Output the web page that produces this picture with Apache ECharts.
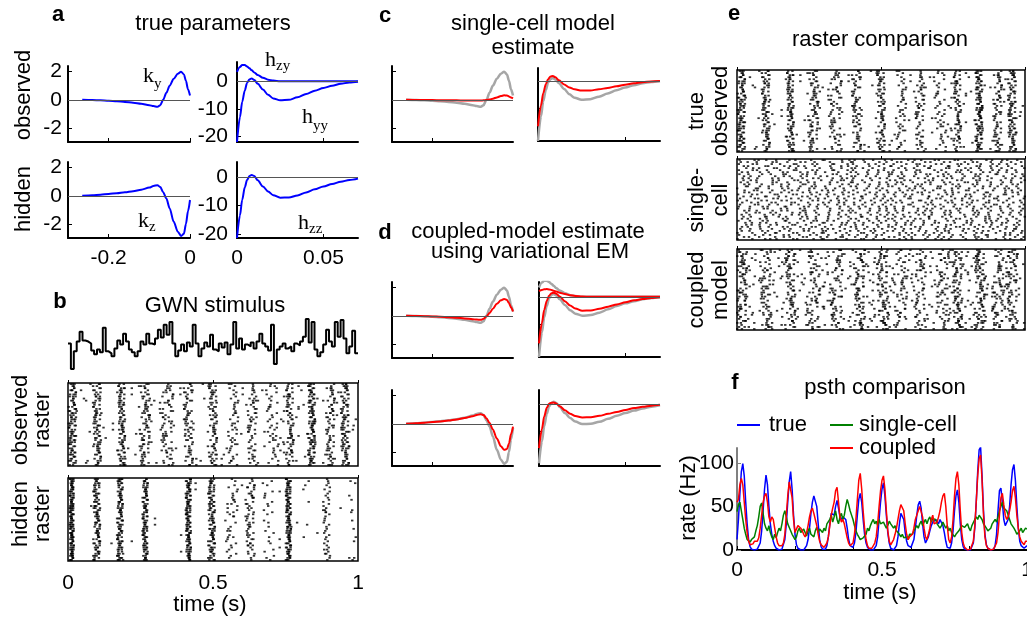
<!DOCTYPE html>
<html>
<head>
<meta charset="utf-8">
<title>true parameters / raster / psth</title>
<script src="https://cdn.jsdelivr.net/npm/echarts@6.0.0/dist/echarts.min.js"></script>
<style>
  html, body { margin: 0; padding: 0; background: #fff; }
  #main { width: 1027px; height: 620px; }
</style>
</head>
<body>
<div id="main"></div>
<script>
// ---------- filters (panel a, c, d) ----------
const kTime = [-0.265, -0.24, -0.22, -0.2, -0.18, -0.16, -0.14, -0.12, -0.1, -0.09, -0.08,
  -0.073, -0.066, -0.058, -0.05, -0.04, -0.03, -0.022, -0.015, -0.01, -0.005, 0];
const kyTrue = [0, -0.02, -0.04, -0.07, -0.1, -0.15, -0.21, -0.28, -0.38, -0.45, -0.5,
  -0.38, 0, 0.5, 1.0, 1.5, 1.85, 2.0, 1.8, 1.35, 0.75, 0.3];
const kzTrue = [0, 0.04, 0.08, 0.13, 0.18, 0.25, 0.33, 0.43, 0.58, 0.7, 0.75,
  0.62, 0.25, -0.2, -0.9, -1.85, -2.55, -2.85, -2.7, -2.0, -1.1, -0.3];
const kySingle = [0, -0.01, -0.02, -0.02, -0.03, -0.03, -0.04, -0.05, -0.05, -0.05, -0.05,
  -0.04, -0.02, 0.02, 0.08, 0.17, 0.26, 0.32, 0.3, 0.24, 0.16, 0.1];
const kyCoupled = [0, -0.01, -0.03, -0.05, -0.07, -0.1, -0.14, -0.19, -0.24, -0.27, -0.28,
  -0.22, -0.05, 0.2, 0.5, 0.85, 1.1, 1.2, 1.12, 0.9, 0.6, 0.3];
const kzCoupled = [0, 0.04, 0.08, 0.12, 0.17, 0.23, 0.31, 0.41, 0.53, 0.62, 0.68,
  0.62, 0.4, 0.05, -0.4, -1.05, -1.6, -1.85, -1.8, -1.4, -0.75, -0.2];

const hTime = [0, 0.0017, 0.003, 0.0045, 0.0058, 0.0072, 0.0085, 0.01, 0.012, 0.015, 0.018,
  0.021, 0.025, 0.03, 0.035, 0.04, 0.045, 0.05, 0.055, 0.06, 0.065, 0.07];
const hyyTrue = [-22, -13, -7.5, -3.3, -0.6, 0.7, 1.0, 0.5, -0.9, -3.0, -4.9,
  -6.2, -6.9, -6.7, -5.8, -4.6, -3.4, -2.4, -1.6, -0.9, -0.4, -0.15];
const hzyTrue = [3.4, 5.2, 5.9, 5.9, 5.4, 4.7, 4.0, 3.2, 2.3, 1.3, 0.6,
  0.25, 0.05, 0, 0, 0, 0, 0, 0, 0, 0, 0];
const hzzTrue = [-21.5, -13.5, -8, -3.5, -0.9, 0.5, 0.9, 0.5, -1.0, -3.2, -5.0,
  -6.3, -7.2, -7.1, -6.4, -5.3, -4.2, -3.2, -2.3, -1.5, -0.9, -0.4];
const hyySingle = [-16.6, -9, -4.5, -1.2, 0.6, 1.6, 1.8, 1.3, 0.2, -1.3, -2.4,
  -3.1, -3.55, -3.5, -3.1, -2.6, -2.0, -1.4, -0.9, -0.5, -0.2, -0.05];
const hzyCoupled = [2.1, 2.5, 2.75, 2.8, 2.7, 2.5, 2.2, 1.9, 1.5, 1.0, 0.6,
  0.3, 0.1, 0, 0, 0, 0, 0, 0, 0, 0, 0];
const hyyCoupled = [-17, -9.5, -4.8, -1.5, 0.4, 1.3, 1.5, 1.1, 0.1, -1.6, -3.2,
  -4.3, -5.1, -5.0, -4.4, -3.6, -2.8, -2.0, -1.3, -0.8, -0.4, -0.15];
const hzzCoupled = [-16, -9, -4.5, -1.3, 0.2, 0.55, 0.6, 0.3, -0.7, -2.2, -3.5,
  -4.3, -4.8, -4.7, -4.2, -3.5, -2.8, -2.1, -1.4, -0.9, -0.5, -0.2];

// ---------- GWN stimulus, one value per 10 ms bin ----------
const stimulus = [0.3, -2.3, -0.5, 0.5, 1.5, 0.6, 0.5, 0.3, -0.4, -0.8,
  -0.3, -0.6, 1.9, -0.5, -0.7, -1.0, -0.2, 0.6, 0.2, 1.3,
  0.5, -0.3, -0.6, -1.0, -0.5, 0.5, 0.2, 1.3, 0.3, 0.2,
  0.8, 1.7, 0.9, 2.2, 1.2, 2.5, 0.3, -1.0, -0.4, 0.2,
  -0.5, 0.4, 0.0, 2.2, 0.3, -1.0, -0.2, 0.4, 0.0, 1.2,
  -0.3, -0.5, 0.3, -0.1, 0.4, -0.8, 0.2, 2.5, -0.2, 0.8,
  -0.3, 0.2, 0.0, 0.4, -0.2, 0.5, 1.3, 0.3, 0.0, -0.4,
  2.2, -1.8, -0.3, 0.0, 0.3, -0.2, 0.0, -0.5, 0.3, 0.1,
  0.5, 1.0, 2.8, 0.4, 2.5, -0.3, -1.0, -0.6, 0.2, 1.7,
  0.5, 0.0, 2.5, 1.0, 2.7, 0.8, -0.7, 0.0, 1.6, -0.7];

// ---------- rasters: burst times (s), spikes per trial, spread (s) ----------
const N_TRIALS = 40;
const obsBurstTimes = [0.015, 0.10, 0.185, 0.265, 0.34, 0.415, 0.50, 0.57, 0.635, 0.705, 0.765, 0.84, 0.905, 0.955];
const obsBurstCounts = [2.4, 2.0, 2.1, 1.7, 1.6, 1.6, 1.8, 1.1, 1.3, 1.0, 1.6, 2.6, 1.6, 2.2];
const obsBurstSpread = [0.013, 0.014, 0.012, 0.018, 0.024, 0.016, 0.014, 0.018, 0.015, 0.022, 0.013, 0.012, 0.015, 0.014];
const hidBurstTimes = [0.013, 0.099, 0.179, 0.266, 0.415, 0.495, 0.564, 0.628, 0.69, 0.76, 0.817, 0.892, 0.984];
const hidBurstCounts = [3.4, 2.6, 2.6, 2.6, 3.0, 2.6, 0.9, 1.5, 0.6, 3.0, 0.12, 1.1, 0.2];
const hidBurstSpread = [0.007, 0.012, 0.01, 0.009, 0.009, 0.012, 0.022, 0.016, 0.02, 0.009, 0.012, 0.012, 0.01];
const cplBurstTimes = [0.015, 0.10, 0.185, 0.265, 0.345, 0.425, 0.505, 0.57, 0.635, 0.715, 0.765, 0.843, 0.906, 0.955];
const cplBurstCounts = [1.8, 1.4, 1.6, 1.2, 1.4, 1.7, 1.7, 1.1, 1.1, 1.2, 1.7, 2.0, 1.3, 1.5];
const cplBurstSpread = [0.02, 0.02, 0.018, 0.022, 0.022, 0.02, 0.02, 0.022, 0.022, 0.022, 0.018, 0.018, 0.02, 0.02];
const bgPerTrial = { observed: 4, hidden: 1, single: 30, coupled: 10 };
// fixed offset tables used to place spikes within a burst / bin
const JIT = [0.12, -0.55, 0.83, -0.21, 0.47, -0.9, 0.05, 0.66, -0.38, 0.29, -0.72, 0.91, -0.08, 0.41,
  -0.63, 0.18, 0.77, -0.45, -0.15, 0.58, -0.97, 0.33, -0.27, 0.72, -0.6, 0.02, 0.51, -0.84, 0.24,
  -0.33, 0.95, -0.49, 0.1, 0.63, -0.7, 0.37, -0.12, 0.86, -0.4, -0.02, 0.69];
const JIT_U = [0.31, 0.77, 0.05, 0.52, 0.93, 0.18, 0.64, 0.41, 0.86, 0.27, 0.6, 0.12, 0.98, 0.35, 0.71,
  0.46, 0.08, 0.83, 0.22, 0.57, 0.94, 0.39, 0.15, 0.68, 0.02, 0.49, 0.88, 0.25, 0.62, 0.11, 0.79,
  0.44, 0.97, 0.3, 0.55, 0.19, 0.73];

// ---------- psth (Hz), 5 ms steps from 0 to 1 s ----------
const psthTrue = [12, 35, 65, 90, 99, 85, 55, 30, 12, 4, 1, 0, 0, 0, 1, 3, 8, 22, 45, 70,
  86, 75, 50, 30, 18, 10, 5, 2, 0, 0, 0, 1, 3, 12, 30, 55, 78, 90, 70, 40,
  18, 6, 2, 0, 0, 0, 0, 1, 5, 12, 25, 42, 55, 62, 64, 50, 30, 12, 4, 1,
  0, 1, 5, 15, 30, 42, 44, 40, 50, 57, 48, 38, 35, 38, 40, 35, 25, 12, 5, 3,
  3, 8, 20, 40, 58, 65, 55, 35, 18, 8, 3, 1, 0, 0, 0, 2, 5, 15, 35, 55,
  70, 77, 62, 40, 20, 8, 2, 0, 0, 1, 5, 15, 30, 42, 44, 35, 20, 10, 5, 3,
  3, 5, 12, 25, 40, 52, 56, 48, 30, 15, 8, 10, 15, 22, 28, 32, 30, 35, 33, 30,
  35, 33, 28, 20, 10, 3, 1, 2, 8, 22, 45, 62, 69, 55, 30, 12, 4, 1, 0, 0,
  0, 0, 2, 8, 25, 55, 90, 115, 118, 85, 45, 18, 6, 2, 0, 0, 0, 1, 5, 18,
  45, 68, 71, 55, 35, 28, 28, 35, 50, 75, 92, 98, 80, 50, 25, 10, 5, 3, 2, 4, 5];
const psthSingle = [44, 52, 55, 45, 35, 25, 18, 12, 10, 9, 12, 10, 15, 22, 28, 38, 50, 54, 42, 30,
  25, 22, 28, 20, 15, 12, 18, 14, 20, 25, 22, 30, 40, 45, 38, 30, 28, 22, 18, 15,
  12, 15, 22, 25, 20, 18, 24, 20, 16, 22, 25, 18, 20, 15, 22, 26, 20, 24, 22, 20,
  25, 22, 30, 28, 35, 40, 32, 38, 45, 35, 30, 38, 42, 35, 40, 50, 58, 52, 45, 40,
  35, 28, 22, 18, 15, 12, 10, 14, 12, 18, 25, 22, 28, 32, 35, 30, 33, 28, 35, 30,
  28, 32, 30, 25, 28, 33, 30, 28, 25, 28, 22, 20, 18, 15, 18, 14, 12, 15, 12, 18,
  20, 18, 22, 25, 28, 25, 30, 33, 28, 32, 35, 30, 35, 38, 32, 36, 38, 35, 30, 28,
  25, 28, 32, 30, 25, 28, 22, 25, 20, 18, 15, 18, 20, 22, 25, 28, 30, 26, 28, 30,
  25, 22, 28, 30, 35, 38, 35, 40, 38, 35, 30, 28, 25, 22, 20, 25, 30, 28, 35, 32,
  38, 45, 50, 55, 48, 50, 45, 40, 35, 30, 28, 25, 22, 18, 20, 22, 25, 20, 22, 25, 24];
const psthCoupled = [55, 58, 75, 82, 75, 55, 35, 20, 10, 6, 5, 7, 10, 12, 10, 14, 25, 40, 55, 62,
  65, 55, 38, 32, 38, 35, 25, 15, 8, 5, 4, 5, 8, 18, 40, 62, 78, 80, 60, 35,
  20, 22, 28, 30, 25, 22, 18, 15, 20, 28, 38, 45, 48, 42, 35, 28, 18, 10, 6, 4,
  3, 4, 8, 15, 28, 40, 48, 55, 68, 72, 55, 38, 32, 35, 30, 22, 14, 8, 5, 5,
  8, 18, 35, 58, 80, 88, 70, 45, 25, 12, 5, 2, 1, 2, 4, 8, 15, 30, 50, 68,
  80, 85, 70, 45, 22, 10, 6, 8, 12, 18, 25, 35, 45, 52, 54, 45, 30, 18, 12, 15,
  15, 18, 25, 35, 40, 45, 50, 48, 38, 25, 15, 12, 18, 25, 35, 40, 30, 28, 32, 38,
  45, 55, 62, 65, 50, 28, 12, 8, 15, 35, 62, 82, 90, 75, 45, 20, 8, 3, 1, 0,
  0, 1, 3, 10, 28, 55, 85, 105, 109, 80, 40, 15, 5, 2, 0, 0, 0, 1, 3, 8,
  20, 40, 60, 65, 52, 40, 35, 38, 45, 55, 68, 73, 60, 40, 25, 15, 10, 8, 6, 10, 10];

// ---------- helpers ----------
const FONT = '"Liberation Sans", Arial, sans-serif';
const SERIF = '"Liberation Serif", "Times New Roman", serif';
const BLUE = '#0000ff', RED = '#ff0000', GRAY = '#a6a6a6', GREEN = '#008000';

function zip(xs, ys) { return xs.map((x, i) => [x, ys[i]]); }
function stepped(values, dt) {
  const pts = values.map((v, i) => [i * dt, v]);
  pts.push([values.length * dt, values[values.length - 1]]);
  return pts;
}
function raster(times, counts, spreads, bg, offset) {
  const pts = [];
  for (let k = 0; k < N_TRIALS; k++) {
    for (let b = 0; b < times.length; b++) {
      const whole = Math.floor(counts[b]);
      const n = whole + (JIT_U[(k * 7 + b * 5 + offset) % JIT_U.length] < counts[b] - whole ? 1 : 0);
      for (let j = 0; j < n; j++) {
        const t = times[b] + spreads[b] * JIT[(k * 13 + b * 7 + j * 19 + offset) % JIT.length];
        if (t >= 0 && t <= 1) pts.push([t, k + 0.5]);
      }
    }
    // background spikes, one per bin, placed from the offset table
    for (let j = 0; j < bg; j++) {
      const idx = (k * 11 + j * 7 + ((j * j + k * k) % 17) + offset) % JIT_U.length;
      pts.push([(j + JIT_U[idx]) / bg, k + 0.5]);
    }
  }
  return pts;
}

const obsRaster = raster(obsBurstTimes, obsBurstCounts, obsBurstSpread, bgPerTrial.observed, 0);
const hidRaster = raster(hidBurstTimes, hidBurstCounts, hidBurstSpread, bgPerTrial.hidden, 5);
const singleRaster = raster([], [], [], bgPerTrial.single, 9);
const cplRaster = raster(cplBurstTimes, cplBurstCounts, cplBurstSpread, bgPerTrial.coupled, 17);
const psthTime = psthTrue.map((_, i) => i * 0.005);

// grids: [left, top, width, height]
const GRIDS = [
  [68, 66, 122, 76],   // 0 a k_y
  [237, 62, 121, 80],  // 1 a h_zy, h_yy
  [68, 162, 122, 76],  // 2 a k_z
  [237, 162, 121, 76], // 3 a h_zz
  [68, 318, 290, 52],  // 4 b stimulus
  [68, 383, 290, 83],  // 5 b observed raster
  [68, 478, 290, 83],  // 6 b hidden raster
  [392, 66, 121, 76],  // 7 c k
  [538, 68, 122, 73],  // 8 c h
  [392, 282, 121, 76], // 9 d k_y
  [539, 282, 121, 75], // 10 d h_y
  [392, 390, 121, 76], // 11 d k_z
  [539, 390, 121, 76], // 12 d h_zz
  [737, 70, 288, 82],  // 13 e true observed
  [737, 159, 288, 81], // 14 e single-cell
  [737, 249, 288, 81], // 15 e coupled
  [737, 448, 290, 102] // 16 f psth
];

const xAxes = [], yAxes = [];
function filterAxes(gi, xr, yr, xTicks, yTicks, xLab, yLab, yMargin) {
  xAxes.push({
    gridIndex: gi, type: 'value', min: xr[0], max: xr[1],
    axisLine: { show: true, onZero: false, lineStyle: { color: '#000', width: 2 } },
    axisTick: { show: true, inside: true, length: 4, customValues: xTicks, lineStyle: { color: '#000' } },
    axisLabel: { show: xLab, customValues: xTicks, color: '#000', fontSize: 21, fontFamily: FONT, margin: 10 },
    splitLine: { show: false }
  });
  yAxes.push({
    gridIndex: gi, type: 'value', min: yr[0], max: yr[1],
    axisLine: { show: true, onZero: false, lineStyle: { color: '#000', width: 2 } },
    axisTick: { show: true, inside: true, length: 4, customValues: yTicks, lineStyle: { color: '#000' } },
    axisLabel: { show: yLab, customValues: yTicks, color: '#000', fontSize: 21, fontFamily: FONT, margin: yMargin || 6 },
    splitLine: { show: false }
  });
}
function rasterAxes(gi, showLabels) {
  xAxes.push({
    gridIndex: gi, type: 'value', min: 0, max: 1,
    axisLine: { show: false },
    axisTick: { show: true, inside: true, length: 3, customValues: [0, 0.5, 1], lineStyle: { color: '#000' } },
    axisLabel: { show: showLabels, customValues: [0, 0.5, 1], color: '#000', fontSize: 21, fontFamily: FONT, margin: 12 },
    splitLine: { show: false }
  });
  yAxes.push({
    gridIndex: gi, type: 'value', min: 0, max: N_TRIALS, inverse: true,
    axisLine: { show: false }, axisTick: { show: false }, axisLabel: { show: false }, splitLine: { show: false }
  });
}

filterAxes(0, [-0.3, 0], [-3, 2.4], [-0.2, 0], [-2, 0, 2], false, true);
filterAxes(1, [0, 0.07], [-22, 7], [0, 0.05], [-20, -10, 0], false, true, 9);
filterAxes(2, [-0.3, 0], [-3, 2.4], [-0.2, 0], [-2, 0, 2], true, true);
filterAxes(3, [0, 0.07], [-21.5, 5.5], [0, 0.05], [-20, -10, 0], true, true, 9);
// stimulus
xAxes.push({ gridIndex: 4, type: 'value', min: 0, max: 1, show: false });
yAxes.push({ gridIndex: 4, type: 'value', min: -2.4, max: 2.9, show: false });
rasterAxes(5, false);
rasterAxes(6, true);
filterAxes(7, [-0.3, 0], [-3, 2.4], [-0.2], [-2, 2], false, false);
filterAxes(8, [0, 0.07], [-22, 4.7], [0.05], [-10], false, false);
filterAxes(9, [-0.3, 0], [-3, 2.4], [-0.2], [-2, 2], false, false);
filterAxes(10, [0, 0.07], [-22, 5.4], [0.05], [-10], false, false);
filterAxes(11, [-0.3, 0], [-3, 2.4], [-0.2], [-2, 2], false, false);
filterAxes(12, [0, 0.07], [-22.5, 5.2], [0.05], [-10], false, false);
rasterAxes(13, false);
rasterAxes(14, false);
rasterAxes(15, false);
// psth
xAxes.push({
  gridIndex: 16, type: 'value', min: 0, max: 1,
  axisLine: { show: true, onZero: false, lineStyle: { color: '#000', width: 2 } },
  axisTick: { show: true, inside: true, length: 4, customValues: [0, 0.2, 0.4, 0.6, 0.8, 1], lineStyle: { color: '#000' } },
  axisLabel: { customValues: [0, 0.5, 1], color: '#000', fontSize: 21, fontFamily: FONT, margin: 10 },
  splitLine: { show: false }
});
yAxes.push({
  gridIndex: 16, type: 'value', min: 0, max: 117,
  axisLine: { show: true, onZero: false, lineStyle: { color: '#808080', width: 2 } },
  axisTick: { show: true, inside: true, length: 4, customValues: [0, 50, 100], lineStyle: { color: '#808080' } },
  axisLabel: { customValues: [0, 50, 100], color: '#000', fontSize: 21, fontFamily: FONT, margin: 3 },
  splitLine: { show: false }
});

const zeroLine = {
  silent: true, symbol: 'none', animation: false, label: { show: false },
  lineStyle: { color: '#555', width: 1, type: 'solid' }, data: [{ yAxis: 0 }]
};
function curve(gi, xs, ys, color, width, withZero) {
  const s = {
    type: 'line', xAxisIndex: gi, yAxisIndex: gi, data: zip(xs, ys),
    showSymbol: false, smooth: 0.3, smoothMonotone: 'x',
    lineStyle: { color: color, width: width }, itemStyle: { color: color }
  };
  if (withZero) s.markLine = zeroLine;
  return s;
}
function dots(gi, pts) {
  return {
    type: 'scatter', xAxisIndex: gi, yAxisIndex: gi, data: pts,
    symbol: 'rect', symbolSize: [2.4, 1.8], itemStyle: { color: '#000' }, silent: true
  };
}
function psthLine(ys, color) {
  return {
    type: 'line', xAxisIndex: 16, yAxisIndex: 16, data: zip(psthTime, ys),
    showSymbol: false, lineStyle: { color: color, width: 1.5 }, itemStyle: { color: color }
  };
}

const series = [
  curve(0, kTime, kyTrue, BLUE, 2, true),
  curve(1, hTime, hzyTrue, BLUE, 2, true),
  curve(1, hTime, hyyTrue, BLUE, 2, false),
  curve(2, kTime, kzTrue, BLUE, 2, true),
  curve(3, hTime, hzzTrue, BLUE, 2, true),
  {
    type: 'line', xAxisIndex: 4, yAxisIndex: 4, data: stepped(stimulus, 0.01), step: 'end',
    showSymbol: false, lineStyle: { color: '#000', width: 2 }
  },
  dots(5, obsRaster),
  dots(6, hidRaster),
  curve(7, kTime, kyTrue, GRAY, 2.5, true),
  curve(7, kTime, kySingle, RED, 2, false),
  curve(8, hTime, hyyTrue, GRAY, 2.5, true),
  curve(8, hTime, hyySingle, RED, 2, false),
  curve(9, kTime, kyTrue, GRAY, 2.5, true),
  curve(9, kTime, kyCoupled, RED, 2, false),
  curve(10, hTime, hzyTrue, GRAY, 2.5, true),
  curve(10, hTime, hyyTrue, GRAY, 2.5, false),
  curve(10, hTime, hzyCoupled, RED, 2, false),
  curve(10, hTime, hyyCoupled, RED, 2, false),
  curve(11, kTime, kzTrue, GRAY, 2.5, true),
  curve(11, kTime, kzCoupled, RED, 2, false),
  curve(12, hTime, hzzTrue, GRAY, 2.5, true),
  curve(12, hTime, hzzCoupled, RED, 2, false),
  dots(13, obsRaster),
  dots(14, singleRaster),
  dots(15, cplRaster),
  psthLine(psthTrue, BLUE),
  psthLine(psthSingle, GREEN),
  psthLine(psthCoupled, RED)
];

function txt(text, x, y, o) {
  o = o || {};
  return {
    type: 'text', x: x, y: y, rotation: o.rot || 0, silent: true,
    style: {
      text: text, font: o.font || ('22px ' + FONT), fill: '#000',
      textAlign: o.align || 'center', textVerticalAlign: o.valign || 'middle'
    }
  };
}
const BOLD = 'bold 22px ' + FONT;
const UP = Math.PI / 2;
const graphics = [
  // panel a
  txt('a', 58, 15, { font: BOLD }),
  txt('true parameters', 213, 24),
  txt('observed', 24, 95, { rot: UP }),
  txt('hidden', 24, 199, { rot: UP }),
  txt('k', 143, 76, { font: '22px ' + SERIF, align: 'left' }),
  txt('y', 154, 84, { font: '15px ' + SERIF, align: 'left' }),
  txt('h', 265, 60, { font: '22px ' + SERIF, align: 'left' }),
  txt('zy', 276, 66, { font: '15px ' + SERIF, align: 'left' }),
  txt('h', 302, 117, { font: '22px ' + SERIF, align: 'left' }),
  txt('yy', 313, 126, { font: '15px ' + SERIF, align: 'left' }),
  txt('k', 138, 221, { font: '22px ' + SERIF, align: 'left' }),
  txt('z', 149, 227, { font: '15px ' + SERIF, align: 'left' }),
  txt('h', 298, 223, { font: '22px ' + SERIF, align: 'left' }),
  txt('zz', 309, 229, { font: '15px ' + SERIF, align: 'left' }),
  // panel b
  txt('b', 60, 302, { font: BOLD }),
  txt('GWN stimulus', 215, 306),
  txt('observed', 21, 420, { rot: UP }),
  txt('raster', 43, 420, { rot: UP }),
  txt('hidden', 21, 514, { rot: UP }),
  txt('raster', 43, 514, { rot: UP }),
  txt('time (s)', 210, 605),
  // panel c, d
  txt('c', 385, 16, { font: BOLD }),
  txt('single-cell model', 533, 24),
  txt('estimate', 533, 48),
  txt('d', 385, 233, { font: BOLD }),
  txt('coupled-model estimate', 528, 232),
  txt('using variational EM', 530, 252),
  // panel e
  txt('e', 734, 14, { font: BOLD }),
  txt('raster comparison', 880, 40),
  txt('true', 697, 111, { rot: UP }),
  txt('observed', 721, 111, { rot: UP }),
  txt('single-', 697, 200, { rot: UP }),
  txt('cell', 721, 200, { rot: UP }),
  txt('coupled', 697, 290, { rot: UP }),
  txt('model', 721, 290, { rot: UP }),
  // panel f
  txt('f', 735, 383, { font: BOLD }),
  txt('psth comparison', 885, 388),
  txt('rate (Hz)', 689, 498, { rot: UP }),
  txt('time (s)', 880, 593),
  { type: 'line', silent: true, shape: { x1: 737, y1: 425, x2: 760, y2: 425 }, style: { stroke: BLUE, lineWidth: 2 } },
  txt('true', 769, 425, { align: 'left' }),
  { type: 'line', silent: true, shape: { x1: 830, y1: 425, x2: 853, y2: 425 }, style: { stroke: GREEN, lineWidth: 2 } },
  txt('single-cell', 859, 425, { align: 'left' }),
  { type: 'line', silent: true, shape: { x1: 830, y1: 448, x2: 853, y2: 448 }, style: { stroke: RED, lineWidth: 2 } },
  txt('coupled', 859, 448, { align: 'left' })
];

const rasterGrids = [5, 6, 13, 14, 15];
const chart = echarts.init(document.getElementById('main'), null, { renderer: 'canvas' });
chart.setOption({
  backgroundColor: '#fff',
  animation: false,
  grid: GRIDS.map((g, i) => ({
    left: g[0], top: g[1], width: g[2], height: g[3],
    containLabel: false, outerBoundsMode: 'none',
    show: rasterGrids.indexOf(i) >= 0,
    borderColor: '#000', borderWidth: 1.5
  })),
  xAxis: xAxes,
  yAxis: yAxes,
  series: series,
  graphic: { elements: graphics }
});
</script>
</body>
</html>
